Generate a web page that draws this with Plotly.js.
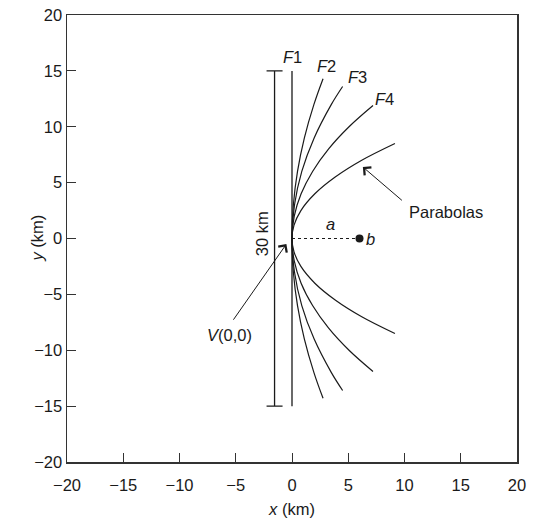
<!DOCTYPE html>
<html>
<head>
<meta charset="utf-8">
<script src="https://cdn.plot.ly/plotly-3.0.1.min.js"></script>
<style>html,body{margin:0;padding:0;background:#fff;}#chart{width:534px;height:520px;}</style>
</head>
<body>
<div id="chart"></div>
<script>
// Scale bar (30 km) and reference line F1
const scaleBarX = [-1.55];
const scaleBarY = [0];
const scaleBarHalf = [15];
const f1X = [0, 0];
const f1Y = [15, -15];

// Parabolas (vertex at V(0,0))
const p2Y = [-14.3, -12, -9, -6, -3, 0, 3, 6, 9, 12, 14.3];
const p2X = [2.76, 1.95, 1.1, 0.49, 0.12, 0, 0.12, 0.49, 1.1, 1.95, 2.76];
const p3Y = [-13.6, -12, -9, -6, -3, 0, 3, 6, 9, 12, 13.6];
const p3X = [4.5, 3.5, 1.97, 0.87, 0.22, 0, 0.22, 0.87, 1.97, 3.5, 4.5];
const p4Y = [-11.9, -10, -8, -6, -4, -2, 0, 2, 4, 6, 8, 10, 11.9];
const p4X = [7.2, 5.07, 3.24, 1.83, 0.81, 0.2, 0, 0.2, 0.81, 1.83, 3.24, 5.07, 7.2];
const p5Y = [-8.5, -7, -5.5, -4, -2.5, -1.2, 0, 1.2, 2.5, 4, 5.5, 7, 8.5];
const p5X = [9.15, 6.2, 3.84, 2.03, 0.79, 0.18, 0, 0.18, 0.79, 2.03, 3.84, 6.2, 9.15];

// Focus distance a to point b
const aLineX = [0, 6];
const aLineY = [0, 0];
const bPointX = [6];
const bPointY = [0];

const xTicks = [-20, -15, -10, -5, 0, 5, 10, 15, 20];
const yTicks = [-20, -15, -10, -5, 0, 5, 10, 15, 20];
const tickText = ['\u221220', '\u221215', '\u221210', '\u22125', '0', '5', '10', '15', '20'];

const lineColor = '#1a1a1a';
const curve = (x, y) => ({x: x, y: y, type: 'scatter', mode: 'lines', line: {color: lineColor, width: 1.2, shape: 'spline', smoothing: 1}, hoverinfo: 'skip'});

const traces = [
  {x: scaleBarX, y: scaleBarY, type: 'scatter', mode: 'markers', marker: {size: 0.1, color: 'rgba(0,0,0,0)'},
   error_y: {type: 'data', array: scaleBarHalf, visible: true, color: lineColor, thickness: 1.3, width: 8}},
  {x: f1X, y: f1Y, type: 'scatter', mode: 'lines', line: {color: lineColor, width: 1.3}},
  curve(p2X, p2Y), curve(p3X, p3Y), curve(p4X, p4Y), curve(p5X, p5Y),
  {x: aLineX, y: aLineY, type: 'scatter', mode: 'lines', line: {color: lineColor, width: 1.2, dash: 'dot'}},
  {x: bPointX, y: bPointY, type: 'scatter', mode: 'markers', marker: {color: lineColor, size: 8}}
];

const font = {family: 'Liberation Sans, Arial, sans-serif', size: 16.5, color: '#1a1a1a'};
const ann = (x, y, text, extra) => Object.assign({x: x, y: y, xref: 'x', yref: 'y', text: text, showarrow: false, font: font}, extra || {});

const layout = {
  width: 534, height: 520,
  margin: {l: 67, r: 17, t: 15, b: 58},
  paper_bgcolor: '#fff', plot_bgcolor: '#fff',
  showlegend: false,
  font: font,
  xaxis: {range: [-20, 20], tickvals: xTicks, ticktext: tickText, ticks: 'inside', ticklen: 9, tickwidth: 1, tickcolor: '#333',
          showgrid: false, zeroline: false, showline: true, linecolor: '#333', linewidth: 1.5, mirror: true,
          ticklabelstandoff: 8,
          title: {text: '<i>x</i> (km)', font: font, standoff: 10}, tickfont: font},
  yaxis: {range: [-20, 20], tickvals: yTicks, ticktext: tickText, ticks: 'inside', ticklen: 9, tickwidth: 1, tickcolor: '#333',
          showgrid: false, zeroline: false, showline: true, linecolor: '#333', linewidth: 1.5, mirror: true,
          tickfont: font},
  annotations: [
    {x: -0.0933, y: 0, xref: 'paper', yref: 'y', text: '<i>y</i> (km)', showarrow: false, textangle: -90, font: font},
    ann(0, 16.25, '<i>F</i>1'),
    ann(3.1, 15.4, '<i>F</i>2'),
    ann(5.8, 14.45, '<i>F</i>3'),
    ann(8.2, 12.5, '<i>F</i>4'),
    ann(3.4, 1.3, '<i>a</i>'),
    ann(6.4, 0, '<i>b</i>', {xanchor: 'left'}),
    ann(-2.65, 0.4, '30 km', {textangle: -90}),
    ann(-5.6, -8.6, '<i>V</i>(0,0)'),
    ann(13.7, 2.35, 'Parabolas'),
    {x: 6.3, y: 6.4, xref: 'x', yref: 'y', ax: 9.9, ay: 3.3, axref: 'x', ayref: 'y', text: '', showarrow: true,
     arrowhead: 4, arrowsize: 2, arrowwidth: 1, arrowcolor: lineColor},
    {x: -0.5, y: -0.5, xref: 'x', yref: 'y', ax: -5.3, ay: -7.4, axref: 'x', ayref: 'y', text: '', showarrow: true,
     arrowhead: 4, arrowsize: 2, arrowwidth: 1, arrowcolor: lineColor}
  ]
};

Plotly.newPlot('chart', traces, layout, {displayModeBar: false, staticPlot: true});
</script>
</body>
</html>
